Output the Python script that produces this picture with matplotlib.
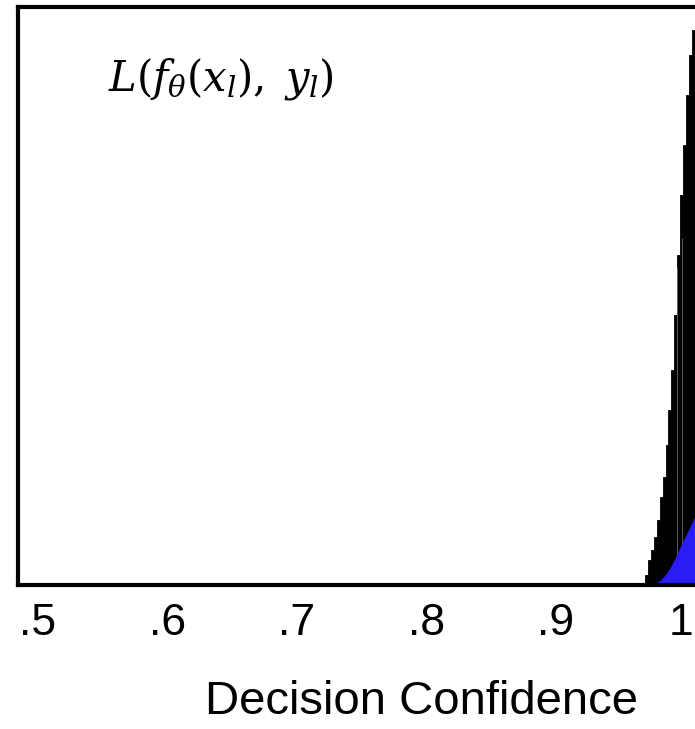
import numpy as np
import matplotlib
matplotlib.use("Agg")
import matplotlib.pyplot as plt
import matplotlib.transforms as mtransforms

plt.rcParams['font.family'] = ['Liberation Sans', 'DejaVu Sans']
plt.rcParams['mathtext.fontset'] = 'stix'

# loss histogram of labelled samples (left bin edges and normalised heights)
bin_left = [0.9690, 0.9713, 0.9736, 0.9759, 0.9782, 0.9805, 0.9828, 0.9851, 0.9874,
            0.9897, 0.9920, 0.9943, 0.9966, 0.9989, 1.0012, 1.0035, 1.0058]
bin_height = [0.017, 0.043, 0.061, 0.083, 0.112, 0.152, 0.187, 0.242, 0.303,
              0.372, 0.467, 0.571, 0.675, 0.761, 0.848, 0.917, 0.960]
bin_width = 0.0023

# smooth density drawn in blue on top
dens_x = [0.9725, 0.9768, 0.9807, 0.9846, 0.9884, 0.9923, 0.9961, 1.0000, 1.0039, 1.0077, 1.0100]
dens_y = [0.000, 0.003, 0.008, 0.017, 0.029, 0.046, 0.064, 0.083, 0.100, 0.118, 0.128]

tick_pos = [0.5, 0.6, 0.7, 0.8, 0.9, 1.0]
tick_lab = ['.5', '.6', '.7', '.8', '.9', '1']

fig = plt.figure(figsize=(6.95, 7.29), dpi=100)
ax = fig.add_axes([0.0259, 0.1975, 0.978, 0.7929])

ax.bar(bin_left, bin_height, width=bin_width, align='edge',
       color='black', edgecolor='black', linewidth=0.6, zorder=2)
# a couple of faint bin separators show through the dark bars
ax.vlines([0.9943, 0.9975], 0.02, [0.55, 0.6], color='#6a6a6a', linewidth=0.6, zorder=2.5)
ax.fill_between(dens_x, 0, dens_y, color='#2a1cf5', linewidth=0, zorder=3)

ax.set_xlim(0.4845, 1.0100)
ax.set_ylim(0, 1)
ax.set_yticks([])
ax.set_xticks(tick_pos)
ax.set_xticklabels(tick_lab, fontsize=32)
ax.tick_params(axis='x', length=0, pad=13)
# keep the last label inside the figure edge
last = ax.get_xticklabels()[-1]
last.set_transform(last.get_transform() +
                   mtransforms.ScaledTranslation(-3 / 72, 0, fig.dpi_scale_trans))
for sp in ax.spines.values():
    sp.set_linewidth(3)
    sp.set_zorder(4)

ax.text(0.132, 0.856, r'$L(f_{\theta}(x_l),\;y_l)$', transform=ax.transAxes,
        fontsize=30, va='baseline', ha='left', math_fontfamily='dejavuserif')

fig.text(0.607, 0.02, 'Decision Confidence', fontsize=34, ha='center', va='baseline')

fig.savefig('out.png', dpi=100)
